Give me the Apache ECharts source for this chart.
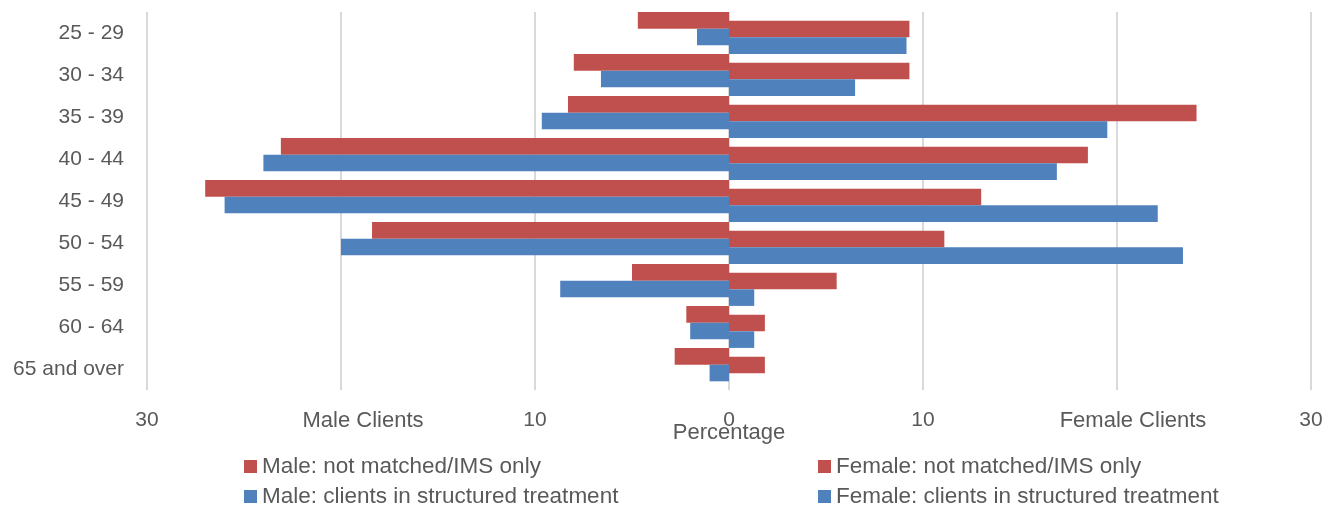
<!DOCTYPE html>
<html lang="en">
<head>
    <meta charset="UTF-8">
    <title>Clients by age and sex</title>
    <script src="https://cdn.jsdelivr.net/npm/echarts@6/dist/echarts.min.js"></script>
    <style>
        *{
            margin:0;
            padding:0;
        }
        #main{
            width:1336px;
            height:506px;
            background:#fff;
        }
    </style>
</head>
<body>
    <div id="main"></div>
    <script>
        // age groups, top to bottom
        var categories=['25 - 29','30 - 34','35 - 39','40 - 44','45 - 49','50 - 54','55 - 59','60 - 64','65 and over']
        // percentages (male drawn to the left)
        var maleNotMatched=[4.7,8.0,8.3,23.1,27.0,18.4,5.0,2.2,2.8]
        var maleStructured=[1.65,6.6,9.65,24.0,26.0,20.0,8.7,2.0,1.0]
        var femaleNotMatched=[9.3,9.3,24.1,18.5,13.0,11.1,5.55,1.85,1.85]
        var femaleStructured=[9.15,6.5,19.5,16.9,22.1,23.4,1.3,1.3,0]
        var tickLabels={'-30':'30','-20':'{m|Male Clients}','-10':'10','0':'0','10':'10','20':'{f|Female Clients}','30':'30'}

        var red='#C0504D', blue='#4F81BD', txt='#595959'
        var font='Liberation Sans'

        function neg(arr){
            return arr.map(function(v){return -v})
        }

        var myChart=echarts.init(document.getElementById('main'))

        var hiddenX={type:'value',min:-30,max:30,interval:10,show:false}
        var hiddenY={type:'category',data:categories,inverse:true,show:false}

        var option={
            animation:false,
            textStyle:{fontFamily:font},
            grid:[
                {left:147,right:25,top:12,bottom:116},   // axes and grid lines
                {left:147,right:25,top:7.7,bottom:120.3}, // male bars sit a bit higher
                {left:147,right:25,top:16.3,bottom:111.7} // female bars a bit lower
            ],
            xAxis:[
                {
                    type:'value',gridIndex:0,min:-30,max:30,interval:10,
                    name:'Percentage',nameLocation:'middle',nameGap:32,nameMoveOverlap:false,
                    nameTextStyle:{color:txt,fontSize:22,fontFamily:font},
                    axisLine:{show:false},
                    axisTick:{show:false},
                    splitLine:{lineStyle:{color:'#d9d9d9',width:2}},
                    axisLabel:{
                        color:txt,fontSize:21,fontFamily:font,margin:20,
                        formatter:function(v){return tickLabels[String(v)]},
                        rich:{
                            m:{color:txt,fontSize:22,fontFamily:font,padding:[0,0,0,44]},
                            f:{color:txt,fontSize:22,fontFamily:font,padding:[0,0,0,32]}
                        }
                    }
                },
                Object.assign({gridIndex:1},hiddenX),
                Object.assign({gridIndex:2},hiddenX)
            ],
            yAxis:[
                {
                    type:'category',gridIndex:0,data:categories,inverse:true,
                    axisLine:{show:false,onZero:false},
                    axisTick:{show:false},
                    axisLabel:{color:txt,fontSize:21,fontFamily:font,margin:23}
                },
                Object.assign({gridIndex:1},hiddenY),
                Object.assign({gridIndex:2},hiddenY)
            ],
            legend:[
                {
                    orient:'vertical',left:244,top:455,height:70,itemGap:7,padding:0,
                    itemWidth:13,itemHeight:13,icon:'rect',
                    textStyle:{color:txt,fontSize:22.5,fontFamily:font},
                    data:['Male: not matched/IMS only','Male: clients in structured treatment']
                },
                {
                    orient:'vertical',left:818,top:455,height:70,itemGap:7,padding:0,
                    itemWidth:13,itemHeight:13,icon:'rect',
                    textStyle:{color:txt,fontSize:22.5,fontFamily:font},
                    data:['Female: not matched/IMS only','Female: clients in structured treatment']
                }
            ],
            series:[
                {
                    name:'Male: not matched/IMS only',type:'bar',
                    xAxisIndex:1,yAxisIndex:1,barWidth:16.6,barGap:'0%',
                    itemStyle:{color:red},
                    data:neg(maleNotMatched)
                },
                {
                    name:'Male: clients in structured treatment',type:'bar',
                    xAxisIndex:1,yAxisIndex:1,barWidth:16.6,barGap:'0%',
                    itemStyle:{color:blue},
                    data:neg(maleStructured)
                },
                {
                    name:'Female: not matched/IMS only',type:'bar',
                    xAxisIndex:2,yAxisIndex:2,barWidth:16.6,barGap:'0%',
                    itemStyle:{color:red},
                    data:femaleNotMatched
                },
                {
                    name:'Female: clients in structured treatment',type:'bar',
                    xAxisIndex:2,yAxisIndex:2,barWidth:16.6,barGap:'0%',
                    itemStyle:{color:blue},
                    data:femaleStructured
                }
            ]
        }
        myChart.setOption(option)
    </script>
</body>
</html>
